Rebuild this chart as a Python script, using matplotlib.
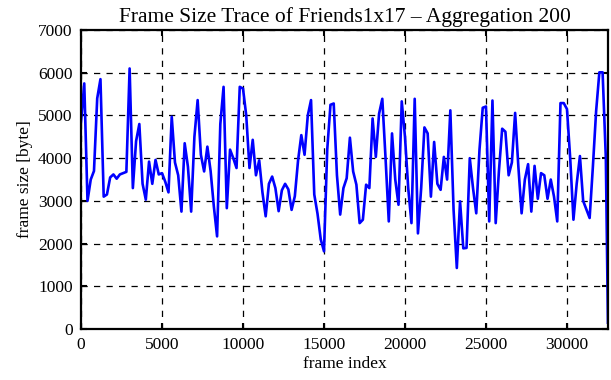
import matplotlib
matplotlib.use("Agg")
import matplotlib.pyplot as plt
import numpy as np

# aggregated frame sizes (one value per 200 frames)
frame_sizes = [
    4850, 5750, 3000, 3500, 3700, 5400, 5850, 3100, 3150, 3550,
    3620, 3520, 3620, 3650, 3680, 6100, 3300, 4400, 4800, 3400,
    3030, 3920, 3400, 3960, 3620, 3650, 3450, 3200, 4970, 3900,
    3600, 2750, 4350, 3800, 2750, 4500, 5360, 4080, 3690, 4270,
    3700, 2870, 2170, 4800, 5670, 2830, 4200, 4000, 3770, 5670,
    5630, 5000, 3770, 4430, 3600, 3950, 3200, 2640, 3400, 3570,
    3300, 2760, 3250, 3400, 3270, 2790, 3110, 3950, 4540, 4080,
    5000, 5360, 3150, 2700, 2100, 1820, 4200, 5250, 5280, 3600,
    2680, 3300, 3530, 4480, 3690, 3380, 2480, 2560, 3380, 3300,
    4930, 4030, 5040, 5390, 4000, 2520, 4580, 3500, 2910, 5330,
    4500, 3300, 2480, 5390, 2240, 3300, 4720, 4580, 3100, 4380,
    3400, 3260, 4030, 3500, 5120, 2790, 1430, 2990, 1890, 1900,
    4000, 3300, 2710, 4200, 5180, 5210, 2520, 5350, 2480, 3700,
    4690, 4620, 3600, 3900, 5060, 3800, 2710, 3500, 3860, 2750,
    3820, 3050, 3650, 3600, 3050, 3500, 3100, 2520, 5290, 5290,
    5150, 4000, 2560, 3400, 4050, 3000, 2800, 2600, 3800, 5100,
    6010, 6010, 4000, 150,
]
aggregation = 200
last_frame = 32530

x_ticks = [0, 5000, 10000, 15000, 20000, 25000, 30000]
y_ticks = [0, 1000, 2000, 3000, 4000, 5000, 6000, 7000]

frames = np.arange(len(frame_sizes)) * aggregation
frames[-1] = last_frame

plt.rcParams['font.family'] = ['Liberation Serif', 'DejaVu Serif']
plt.rcParams['font.size'] = 12.5

fig = plt.figure(figsize=(6.11, 3.80), dpi=100)
ax = fig.add_axes([0.1326, 0.134, 0.8624, 0.787])

ax.plot(frames, frame_sizes, color='#0000ff', linewidth=1.9)

ax.set_xlim(0, last_frame)
ax.set_ylim(0, 7000)
ax.set_xticks(x_ticks)
ax.set_yticks(y_ticks)

# gnuplot-like look
ax.grid(True, color='black', linestyle=(0, (5, 5)), linewidth=0.9)
ax.tick_params(direction='in', length=4, width=1.5, top=True, right=True, pad=6)
for s in ax.spines.values():
    s.set_linewidth(1.6)

ax.set_title("Frame Size Trace of Friends1x17 \u2013 Aggregation 200", fontsize=15.5, pad=6)
ax.set_xlabel("frame index", labelpad=2)
ax.set_ylabel("frame size [byte]", labelpad=4)

fig.savefig("out.png", dpi=100)
